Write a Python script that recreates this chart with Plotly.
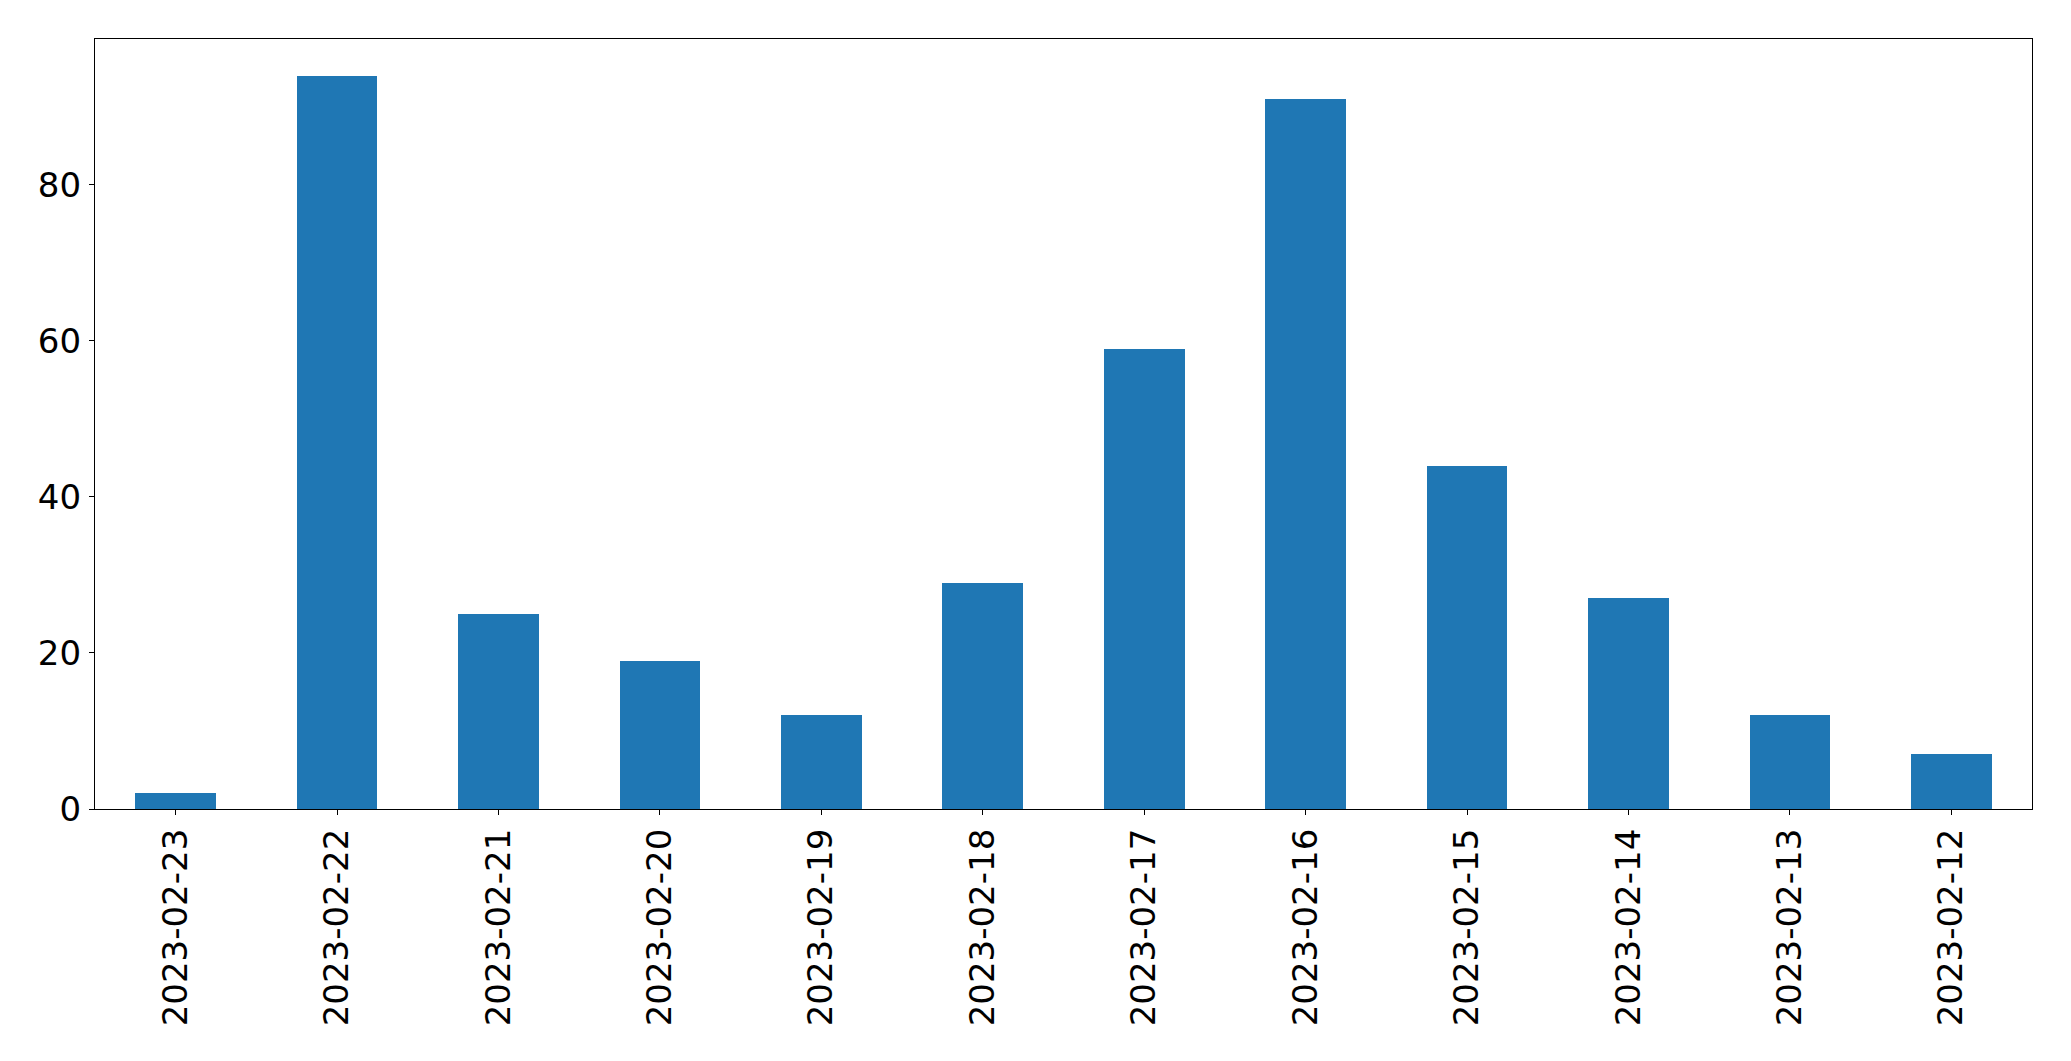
import plotly.graph_objects as go

dates = ["2023-02-23", "2023-02-22", "2023-02-21", "2023-02-20", "2023-02-19", "2023-02-18",
         "2023-02-17", "2023-02-16", "2023-02-15", "2023-02-14", "2023-02-13", "2023-02-12"]
counts = [2, 94, 25, 19, 12, 29, 59, 91, 44, 27, 12, 7]
y_ticks = [0, 20, 40, 60, 80]

fig = go.Figure(go.Bar(x=dates, y=counts, marker=dict(color="#1f77b4", line=dict(width=0)), width=0.5))

font = dict(family="DejaVu Sans", size=34, color="black")
fig.update_layout(
    width=2063, height=1053,
    margin=dict(l=87, r=39, t=31, b=252, autoexpand=False),
    plot_bgcolor="white", paper_bgcolor="white",
    font=font, showlegend=False,
    bargap=0,
)
fig.update_xaxes(
    type="category", range=[-0.5, 11.5], tickangle=-90,
    showline=True, linecolor="black", linewidth=1.3, mirror=True,
    ticks="outside", ticklen=5, tickwidth=1.3, tickcolor="black",
    showgrid=False, zeroline=False, tickfont=font, ticklabelstandoff=0,
)
fig.update_yaxes(
    range=[0, 98.7], tickvals=y_ticks, ticktext=[str(v) for v in y_ticks],
    showline=True, linecolor="black", linewidth=1.3, mirror=True,
    ticks="outside", ticklen=5, tickwidth=1.3, tickcolor="black",
    showgrid=False, zeroline=False, tickfont=font, ticklabelstandoff=1,
)
fig.write_html("out.html")
